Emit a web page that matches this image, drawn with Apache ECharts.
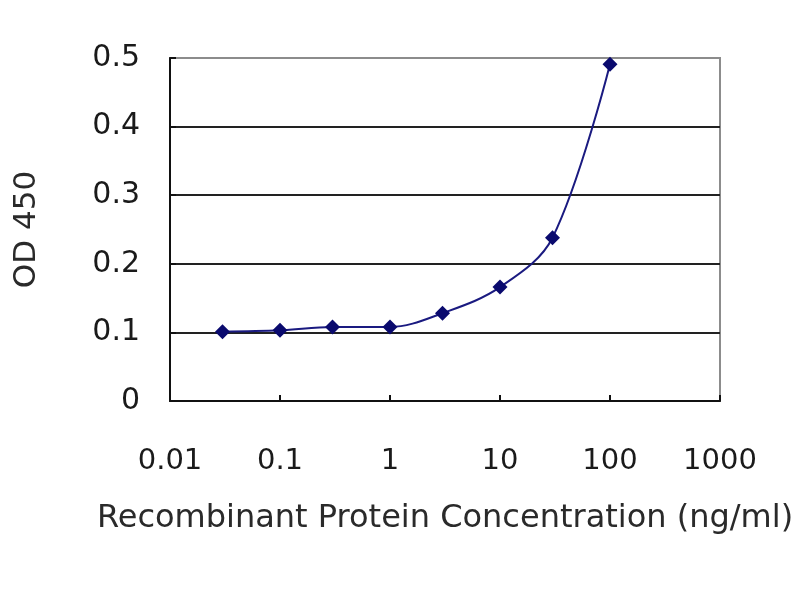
<!DOCTYPE html>
<html>
<head>
<meta charset="utf-8">
<script src="https://cdn.jsdelivr.net/npm/echarts@6/dist/echarts.min.js"></script>
<style>
  html, body { margin: 0; padding: 0; background: #fff; }
  #chart { width: 800px; height: 600px; }
</style>
</head>
<body>
<div id="chart"></div>
<script>
// concentration (ng/ml) and OD 450 readings
const concentrations = [0.03, 0.1, 0.3, 1, 3, 10, 30, 100];
const odValues = [0.101, 0.103, 0.108, 0.108, 0.128, 0.166, 0.238, 0.491];
const yTicks = [0, 0.1, 0.2, 0.3, 0.4, 0.5];
const xTickLabels = ['0.01', '0.1', '1', '10', '100', '1000'];

const chart = echarts.init(document.getElementById('chart'));

const font = 'DejaVu Sans, Arial, sans-serif';

const option = {
  backgroundColor: '#fff',
  animation: false,
  grid: {
    left: 170,
    right: 80,
    top: 58,
    bottom: 199,
    show: true,
    borderColor: '#8c8c8c',
    borderWidth: 2,
    backgroundColor: '#fff'
  },
  xAxis: {
    type: 'log',
    logBase: 10,
    min: 0.01,
    max: 1000,
    name: 'Recombinant Protein Concentration (ng/ml)',
    nameLocation: 'middle',
    nameGap: 102,
    nameTextStyle: { fontFamily: font, fontSize: 32, color: '#2a2a2a' },
    axisLine: { lineStyle: { color: '#111', width: 2 } },
    axisTick: { inside: true, length: 6, lineStyle: { color: '#111', width: 2 } },
    axisLabel: {
      fontFamily: font, fontSize: 29, color: '#1a1a1a', margin: 46,
      formatter: function (v) {
        const i = Math.round(Math.log10(v)) + 2;
        return xTickLabels[i] !== undefined ? xTickLabels[i] : '';
      }
    },
    splitLine: { show: false }
  },
  yAxis: {
    type: 'value',
    min: yTicks[0],
    max: yTicks[yTicks.length - 1],
    interval: 0.1,
    name: 'OD 450',
    nameLocation: 'middle',
    nameGap: 128,
    nameRotate: 90,
    nameTextStyle: { fontFamily: font, fontSize: 31, color: '#2a2a2a' },
    axisLine: { show: true, lineStyle: { color: '#111', width: 2 } },
    axisTick: { show: true, inside: true, length: 6, lineStyle: { color: '#111', width: 2 } },
    axisLabel: {
      fontFamily: font, fontSize: 30, color: '#1a1a1a', margin: 30,
      formatter: function (v) { return String(Math.round(v * 10) / 10); }
    },
    splitLine: {
      show: true,
      lineStyle: { color: ['#111', '#222', '#222', '#222', '#222', '#8c8c8c'], width: 2 }
    }
  },
  series: [{
    type: 'line',
    data: concentrations.map((c, i) => [c, odValues[i]]),
    smooth: 0.35,
    symbol: 'diamond',
    symbolSize: 15,
    lineStyle: { color: '#1a1a80', width: 2 },
    itemStyle: { color: '#0a0a6e' }
  }]
};

chart.setOption(option);
</script>
</body>
</html>
